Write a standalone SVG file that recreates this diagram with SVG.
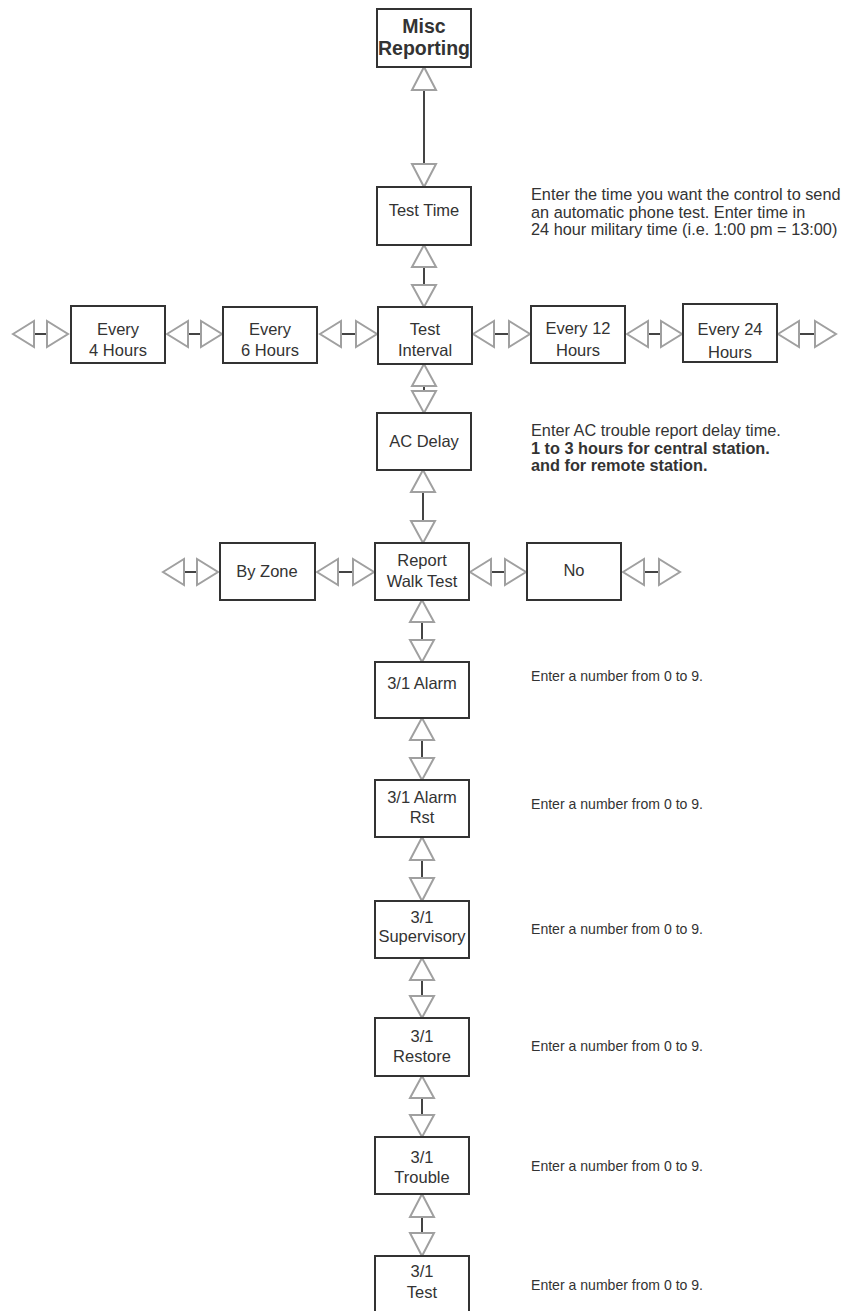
<svg xmlns="http://www.w3.org/2000/svg" width="854" height="1311" viewBox="0 0 854 1311">
<style>
.box{fill:#fff;stroke:#333;stroke-width:2}
.t{font-family:"Liberation Sans",Arial,sans-serif;font-size:16.5px;fill:#333;text-anchor:middle}
.b{font-weight:bold;font-size:19.5px}
.d{font-family:"Liberation Sans",Arial,sans-serif;font-size:16.3px;fill:#333}
.n{font-family:"Liberation Sans",Arial,sans-serif;font-size:15px;fill:#333}
.db{font-weight:bold}
.tri{fill:#fff;stroke:#a0a0a0;stroke-width:2;stroke-linejoin:miter}
.ln{stroke:#444;stroke-width:2;fill:none}
</style>
<rect width="854" height="1311" fill="#fff"/>
<g id="connectors">
<g>
<line class="ln" x1="424" y1="90" x2="424" y2="164"/>
<polygon class="tri" points="424,67 412,90 436,90"/>
<polygon class="tri" points="412,164 436,164 424,187"/>
</g>
<g>
<line class="ln" x1="424" y1="267" x2="424" y2="285"/>
<polygon class="tri" points="424,245 412,267 436,267"/>
<polygon class="tri" points="412,285 436,285 424,307"/>
</g>
<g>
<line class="ln" x1="424" y1="386" x2="424" y2="391"/>
<polygon class="tri" points="424,364 412,386 436,386"/>
<polygon class="tri" points="412,391 436,391 424,413"/>
</g>
<g>
<line class="ln" x1="423" y1="492" x2="423" y2="521"/>
<polygon class="tri" points="423,470 411,492 435,492"/>
<polygon class="tri" points="411,521 435,521 423,543"/>
</g>
<g>
<line class="ln" x1="422" y1="622" x2="422" y2="640"/>
<polygon class="tri" points="422,600 410,622 434,622"/>
<polygon class="tri" points="410,640 434,640 422,662"/>
</g>
<g>
<line class="ln" x1="422" y1="740" x2="422" y2="758"/>
<polygon class="tri" points="422,718 410,740 434,740"/>
<polygon class="tri" points="410,758 434,758 422,780"/>
</g>
<g>
<line class="ln" x1="422" y1="860" x2="422" y2="878"/>
<polygon class="tri" points="422,837 410,860 434,860"/>
<polygon class="tri" points="410,878 434,878 422,901"/>
</g>
<g>
<line class="ln" x1="422" y1="980" x2="422" y2="996"/>
<polygon class="tri" points="422,958 410,980 434,980"/>
<polygon class="tri" points="410,996 434,996 422,1018"/>
</g>
<g>
<line class="ln" x1="422" y1="1098" x2="422" y2="1115"/>
<polygon class="tri" points="422,1076 410,1098 434,1098"/>
<polygon class="tri" points="410,1115 434,1115 422,1137"/>
</g>
<g>
<line class="ln" x1="422" y1="1217" x2="422" y2="1233"/>
<polygon class="tri" points="422,1194 410,1217 434,1217"/>
<polygon class="tri" points="410,1233 434,1233 422,1256"/>
</g>
<g>
<line class="ln" x1="34" y1="334" x2="47" y2="334"/>
<polygon class="tri" points="13,334 34,321 34,347"/>
<polygon class="tri" points="47,321 47,347 68,334"/>
</g>
<g>
<line class="ln" x1="188" y1="334" x2="201" y2="334"/>
<polygon class="tri" points="167,334 188,321 188,347"/>
<polygon class="tri" points="201,321 201,347 222,334"/>
</g>
<g>
<line class="ln" x1="341" y1="334" x2="356" y2="334"/>
<polygon class="tri" points="320,334 341,321 341,347"/>
<polygon class="tri" points="356,321 356,347 377,334"/>
</g>
<g>
<line class="ln" x1="494" y1="334" x2="509" y2="334"/>
<polygon class="tri" points="473,334 494,321 494,347"/>
<polygon class="tri" points="509,321 509,347 530,334"/>
</g>
<g>
<line class="ln" x1="648" y1="334" x2="661" y2="334"/>
<polygon class="tri" points="627,334 648,321 648,347"/>
<polygon class="tri" points="661,321 661,347 682,334"/>
</g>
<g>
<line class="ln" x1="799" y1="334" x2="815" y2="334"/>
<polygon class="tri" points="778,334 799,321 799,347"/>
<polygon class="tri" points="815,321 815,347 836,334"/>
</g>
<g>
<line class="ln" x1="184" y1="572" x2="197" y2="572"/>
<polygon class="tri" points="163,572 184,559 184,585"/>
<polygon class="tri" points="197,559 197,585 218,572"/>
</g>
<g>
<line class="ln" x1="338" y1="572" x2="353" y2="572"/>
<polygon class="tri" points="317,572 338,559 338,585"/>
<polygon class="tri" points="353,559 353,585 374,572"/>
</g>
<g>
<line class="ln" x1="491" y1="572" x2="505" y2="572"/>
<polygon class="tri" points="470,572 491,559 491,585"/>
<polygon class="tri" points="505,559 505,585 526,572"/>
</g>
<g>
<line class="ln" x1="644" y1="572" x2="659" y2="572"/>
<polygon class="tri" points="623,572 644,559 644,585"/>
<polygon class="tri" points="659,559 659,585 680,572"/>
</g>
</g>
<g id="misc"><rect class="box" x="377" y="9" width="94" height="58"/><text class="t b" x="424" y="33">Misc</text><text class="t b" x="424" y="55">Reporting</text></g>
<g id="testtime"><rect class="box" x="377" y="187" width="94" height="58"/><text class="t" x="424" y="216">Test Time</text></g>
<g id="testinterval"><rect class="box" x="378" y="307" width="94" height="57"/><text class="t" x="425" y="335">Test</text><text class="t" x="425" y="356">Interval</text></g>
<g id="every4"><rect class="box" x="71" y="306" width="94" height="57"/><text class="t" x="118" y="335">Every</text><text class="t" x="118" y="356">4 Hours</text></g>
<g id="every6"><rect class="box" x="223" y="307" width="94" height="56"/><text class="t" x="270" y="335">Every</text><text class="t" x="270" y="356">6 Hours</text></g>
<g id="every12"><rect class="box" x="531" y="306" width="94" height="57"/><text class="t" x="578" y="334">Every 12</text><text class="t" x="578" y="356">Hours</text></g>
<g id="every24"><rect class="box" x="683" y="304" width="94" height="58"/><text class="t" x="730" y="335">Every 24</text><text class="t" x="730" y="358">Hours</text></g>
<g id="acdelay"><rect class="box" x="377" y="413" width="94" height="57"/><text class="t" x="424" y="447">AC Delay</text></g>
<g id="reportwalk"><rect class="box" x="375" y="543" width="94" height="57"/><text class="t" x="422" y="566">Report</text><text class="t" x="422" y="587">Walk Test</text></g>
<g id="byzone"><rect class="box" x="220" y="543" width="95" height="57"/><text class="t" x="267" y="577">By Zone</text></g>
<g id="no"><rect class="box" x="527" y="543" width="94" height="57"/><text class="t" x="574" y="576">No</text></g>
<g id="alarm"><rect class="box" x="375" y="662" width="94" height="56"/><text class="t" x="422" y="689">3/1 Alarm</text></g>
<g id="alarmrst"><rect class="box" x="375" y="780" width="94" height="57"/><text class="t" x="422" y="803">3/1 Alarm</text><text class="t" x="422" y="823">Rst</text></g>
<g id="supervisory"><rect class="box" x="375" y="901" width="94" height="57"/><text class="t" x="422" y="923">3/1</text><text class="t" x="422" y="942">Supervisory</text></g>
<g id="restore"><rect class="box" x="375" y="1018" width="94" height="58"/><text class="t" x="422" y="1042">3/1</text><text class="t" x="422" y="1062">Restore</text></g>
<g id="trouble"><rect class="box" x="375" y="1137" width="94" height="57"/><text class="t" x="422" y="1163">3/1</text><text class="t" x="422" y="1183">Trouble</text></g>
<g id="test"><rect class="box" x="375" y="1256" width="94" height="60"/><text class="t" x="422" y="1277">3/1</text><text class="t" x="422" y="1298">Test</text></g>
<g id="notes">
<text class="d" x="531" y="200">Enter the time you want the control to send</text>
<text class="d" x="531" y="217.5">an automatic phone test. Enter time in</text>
<text class="d" x="531" y="235">24 hour military time (i.e. 1:00 pm = 13:00)</text>
<text class="d" x="531" y="436">Enter AC trouble report delay time.</text>
<text class="d db" x="531" y="453.5">1 to 3 hours for central station.</text>
<text class="d db" x="531" y="471">and for remote station.</text>
<text class="n" x="531" y="681" textLength="172" lengthAdjust="spacingAndGlyphs">Enter a number from 0 to 9.</text>
<text class="n" x="531" y="809" textLength="172" lengthAdjust="spacingAndGlyphs">Enter a number from 0 to 9.</text>
<text class="n" x="531" y="934" textLength="172" lengthAdjust="spacingAndGlyphs">Enter a number from 0 to 9.</text>
<text class="n" x="531" y="1051" textLength="172" lengthAdjust="spacingAndGlyphs">Enter a number from 0 to 9.</text>
<text class="n" x="531" y="1171" textLength="172" lengthAdjust="spacingAndGlyphs">Enter a number from 0 to 9.</text>
<text class="n" x="531" y="1290" textLength="172" lengthAdjust="spacingAndGlyphs">Enter a number from 0 to 9.</text>
</g>
</svg>
